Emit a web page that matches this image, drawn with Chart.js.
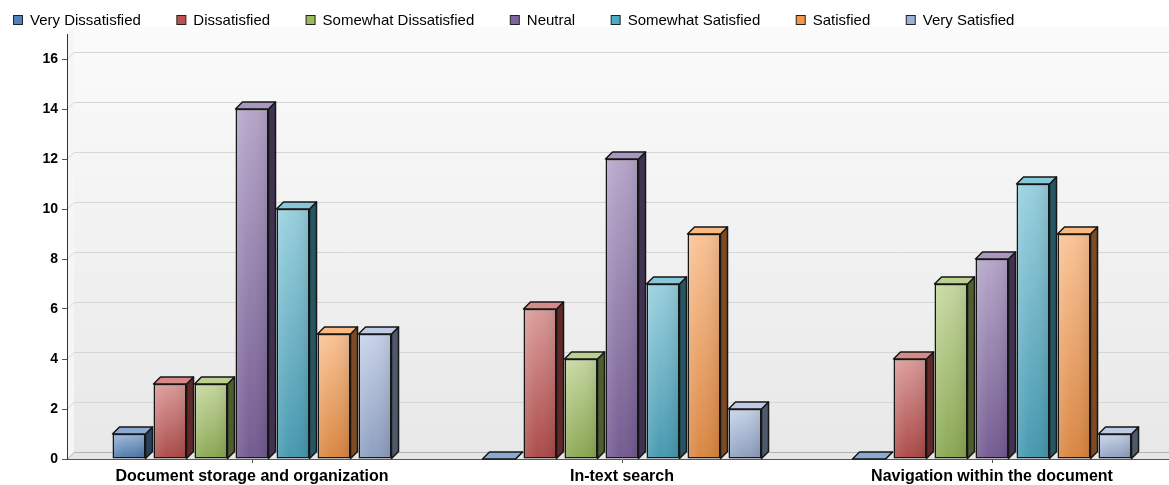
<!DOCTYPE html>
<html>
<head>
<meta charset="utf-8">
<script src="https://cdn.jsdelivr.net/npm/chart.js@4.4.1/dist/chart.umd.min.js"></script>
<style>
html,body{margin:0;padding:0;overflow:hidden;background:#ffffff;}
#wrap{width:1180px;height:485px;position:relative;}
</style>
</head>
<body>
<div id="wrap"><canvas id="chart"></canvas></div>
<script>
// ---- data ----
const categories = ['Document storage and organization', 'In-text search', 'Navigation within the document'];
const seriesNames = ['Very Dissatisfied', 'Dissatisfied', 'Somewhat Dissatisfied', 'Neutral', 'Somewhat Satisfied', 'Satisfied', 'Very Satisfied'];
const veryDissatisfied     = [1, 0, 0];
const dissatisfied         = [3, 6, 4];
const somewhatDissatisfied = [3, 4, 7];
const neutral              = [14, 12, 8];
const somewhatSatisfied    = [10, 7, 11];
const satisfied            = [5, 9, 9];
const verySatisfied        = [5, 2, 1];
const yTickValues = [0, 2, 4, 6, 8, 10, 12, 14, 16];
const yMax = 17;
const seriesColors = ['#4f81bd', '#c0504d', '#9bbb59', '#8064a2', '#4bacc6', '#f79646', '#9db1d7'];

const seriesValues = [veryDissatisfied, dissatisfied, somewhatDissatisfied, neutral, somewhatSatisfied, satisfied, verySatisfied];

// ---- helpers ----
function hexToRgb(h){h=h.replace('#','');return [parseInt(h.substr(0,2),16),parseInt(h.substr(2,2),16),parseInt(h.substr(4,2),16)];}
function mix(a,b,t){const A=hexToRgb(a),B=hexToRgb(b);const c=A.map((v,i)=>Math.round(v+(B[i]-v)*t));return 'rgb('+c.join(',')+')';}

const DX = 7, DY = -7;
const FONT = "'Liberation Sans', Arial, Helvetica, sans-serif";
const OUTLINE = '#161616';

function frontFill(context, base){
  const chart = context.chart;
  if (!chart.chartArea || context.type !== 'data') return base;
  const ys = chart.scales.y;
  const top = ys.getPixelForValue(context.raw);
  const bot = ys.getPixelForValue(0);
  if (bot - top < 1) return base;
  const g = chart.ctx.createLinearGradient(0, top, 0, bot);
  g.addColorStop(0, mix(base, '#ffffff', 0.42));
  g.addColorStop(1, mix(base, '#000000', 0.12));
  return g;
}

const datasets = seriesNames.map((name, i) => ({
  label: name,
  data: seriesValues[i],
  backgroundColor: (ctx) => frontFill(ctx, seriesColors[i]),
  borderColor: OUTLINE,
  borderWidth: 1.5,
  borderSkipped: false,
  categoryPercentage: 0.7757,
  barPercentage: 0.805
}));

function poly(ctx, pts, fill, stroke){
  ctx.beginPath();
  ctx.moveTo(pts[0][0], pts[0][1]);
  for (let k = 1; k < pts.length; k++) ctx.lineTo(pts[k][0], pts[k][1]);
  ctx.closePath();
  if (fill){ctx.fillStyle = fill; ctx.fill();}
  if (stroke){ctx.strokeStyle = stroke; ctx.stroke();}
}

// walls, floor and back gridlines
const wallsPlugin = {
  id: 'walls',
  beforeDraw(chart){
    const {ctx, chartArea} = chart;
    const {left, right, top, bottom} = chartArea;
    const ys = chart.scales.y;
    ctx.save();
    const g = ctx.createLinearGradient(0, top + DY, 0, bottom + DY);
    g.addColorStop(0, '#fbfbfb');
    g.addColorStop(1, '#e8e8e8');
    ctx.fillStyle = g;
    ctx.fillRect(left + DX, top + DY, right - left - DX, bottom - top);
    poly(ctx, [[left, top], [left + DX, top + DY], [left + DX, bottom + DY], [left, bottom]], '#f6f6f6');
    poly(ctx, [[left, bottom], [left + DX, bottom + DY], [right, bottom + DY], [right, bottom]], '#e6e6e6');
    ctx.lineWidth = 1;
    ctx.strokeStyle = '#d6d6d6';
    yTickValues.forEach(v => {
      if (v === 0) return;
      const y = Math.round(ys.getPixelForValue(v)) + 0.5;
      ctx.beginPath();
      ctx.moveTo(left, y);
      ctx.lineTo(left + DX, y + DY);
      ctx.lineTo(right, y + DY);
      ctx.stroke();
    });
    ctx.strokeStyle = '#b4b4b4';
    const yb = Math.round(bottom) + 0.5;
    ctx.beginPath();
    ctx.moveTo(left, yb);
    ctx.lineTo(left + DX, yb + DY);
    ctx.lineTo(right, yb + DY);
    ctx.stroke();
    ctx.restore();
  }
};

// 3D top and side faces
const bars3dPlugin = {
  id: 'bars3d',
  afterDatasetsDraw(chart){
    const ctx = chart.ctx;
    ctx.save();
    ctx.lineWidth = 1.5;
    ctx.lineJoin = 'round';
    chart.data.datasets.forEach((ds, i) => {
      const meta = chart.getDatasetMeta(i);
      const base = seriesColors[i];
      meta.data.forEach(bar => {
        const p = bar.getProps(['x', 'y', 'base', 'width'], true);
        const l = p.x - p.width / 2, r = p.x + p.width / 2;
        const y = p.y, b = p.base;
        if (b - y > 3) {
          const sh = ctx.createLinearGradient(l, 0, r, 0);
          sh.addColorStop(0, 'rgba(255,255,255,0.16)');
          sh.addColorStop(0.4, 'rgba(255,255,255,0.03)');
          sh.addColorStop(1, 'rgba(0,0,0,0.10)');
          ctx.fillStyle = sh;
          ctx.fillRect(l + 1.5, y + 1.5, p.width - 3, b - y - 3);
        }
        poly(ctx, [[r, y], [r + DX, y + DY], [r + DX, b + DY], [r, b]], mix(base, '#000000', 0.5), OUTLINE);
        poly(ctx, [[l, y], [l + DX, y + DY], [r + DX, y + DY], [r, y]], mix(base, '#ffffff', 0.33), OUTLINE);
      });
    });
    ctx.restore();
  }
};

// legend drawn on the canvas, items laid out in a row
const legendPlugin = {
  id: 'rowLegend',
  afterDraw(chart){
    const ctx = chart.ctx;
    ctx.save();
    ctx.font = '15px ' + FONT;
    ctx.textBaseline = 'middle';
    let x = 13;
    const yc = 20;
    chart.data.datasets.forEach((ds, i) => {
      ctx.fillStyle = seriesColors[i];
      ctx.fillRect(x + 0.5, yc - 4.5, 9, 9);
      ctx.strokeStyle = '#222';
      ctx.lineWidth = 1;
      ctx.strokeRect(x + 0.5, yc - 4.5, 9, 9);
      ctx.fillStyle = '#000';
      ctx.fillText(ds.label, x + 17, yc + 0.5);
      x += 17 + ctx.measureText(ds.label).width + 35.5;
    });
    ctx.restore();
  }
};

new Chart(document.getElementById('chart'), {
  type: 'bar',
  data: { labels: categories, datasets: datasets },
  plugins: [wallsPlugin, bars3dPlugin, legendPlugin],
  options: {
    responsive: true,
    maintainAspectRatio: false,
    animation: false,
    layout: { padding: { top: 34, right: 3, left: 0, bottom: 0 } },
    plugins: { legend: { display: false }, tooltip: { enabled: false } },
    scales: {
      x: {
        grid: { display: true, drawOnChartArea: false, drawTicks: true, tickLength: 4, offset: false, color: '#555' },
        border: { display: true, color: '#555', width: 1 },
        ticks: { color: '#000', font: { family: FONT, size: 16, weight: 'bold' }, padding: 4, maxRotation: 0, autoSkip: false },
        afterFit(scale){ scale.height = 26; }
      },
      y: {
        min: 0,
        max: yMax,
        grid: { display: true, drawOnChartArea: false, drawTicks: true, tickLength: 5, color: '#555' },
        border: { display: true, color: '#333', width: 1 },
        ticks: {
          stepSize: 2,
          includeBounds: false,
          color: '#000',
          padding: 4,
          font: { family: FONT, size: 14, weight: 'bold' }
        },
        afterBuildTicks(scale){ scale.ticks = yTickValues.map(v => ({ value: v })); },
        afterFit(scale){ scale.width = 67; }
      }
    }
  }
});
</script>
</body>
</html>
